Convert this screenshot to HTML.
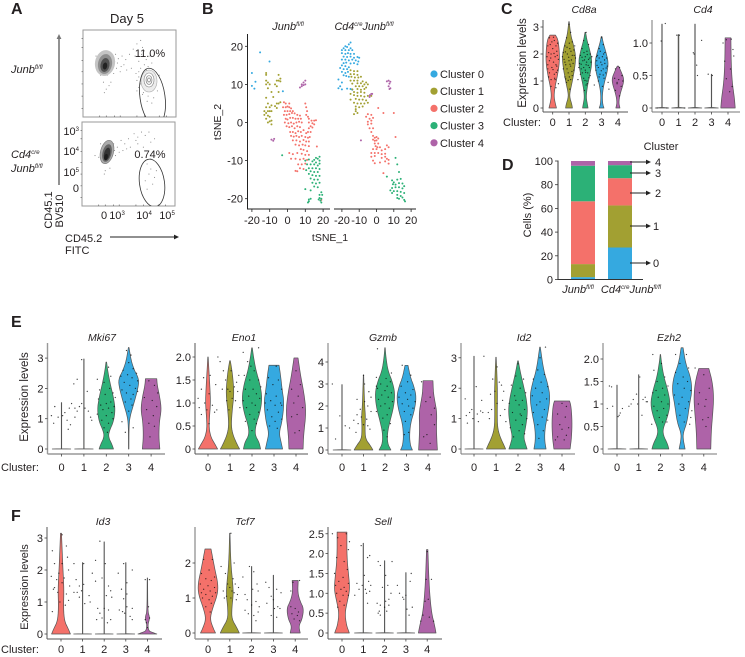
<!DOCTYPE html>
<html>
<head>
<meta charset="utf-8">
<title>Junb single-cell figure</title>
<style>
html,body{margin:0;padding:0;background:#fff;width:745px;height:657px;overflow:hidden}
svg{display:block;font-family:"Liberation Sans",Arial,sans-serif;fill:#231f20}
</style>
</head>
<body>
<svg id="fig" width="745" height="657" viewBox="0 0 745 657" xmlns="http://www.w3.org/2000/svg">
<defs>
<clipPath id="clipA1"><rect x="83" y="30" width="93" height="87"/></clipPath>
<clipPath id="clipA2"><rect x="82" y="122" width="93" height="84"/></clipPath>
</defs>
</svg>
<script>
// ---------- shared categories ----------
const clusterNames = ['Cluster 0','Cluster 1','Cluster 2','Cluster 3','Cluster 4'];
const clusterIds = ['0','1','2','3','4'];
const clusterColors = ['#35a9e0','#a2a032','#f4716a','#2cb177','#ae63a8'];
const violinColors = ['#f4716a','#a2a032','#2cb177','#35a9e0','#ae63a8'];

// ---------- panel D ----------
const stackGroups = ['Junb','Cd4creJunb'];
const stackJunb = [2,11,53,30,4];
const stackCd4 = [27,35.5,23,11,3.5];
const stackTicks = [0,20,40,60,80,100];

// ---------- panel B: tSNE ----------
const tsneTicksX = [-20,-10,0,10,20];
const tsneTicksY = [-20,-10,0,10,20];
const tsneA0 = [[-15.4,18.4],[-10.1,16],[-20,13],[-18,10.7],[-20,9.6],[-18.6,8.9],[-2.6,8.2]];
const tsneA1 = [[-12,13],[-12,12.5],[-12,11],[-11,10.5],[-10,10],[-12,10],[-5,12.5],[-4,11.5],[-6,11],[-5,11],[-4,10.8],[-7,10],[-6,9.5],[-11,9],[-9,8],[-5,8],[-12,6.5],[-8,6.7],[-11,5],[-12,4],[-10,4],[-9,4.5],[-6,5],[-5,5],[-4,5.3],[-13,3],[-12,2.5],[-13,2],[-11,3],[-10,3],[-9,3],[-11,1.8],[-10,1.5],[-12,1],[-9,.5],[-10,.3],[-11,0],[-9,-.5],[-7,4.3],[-6,3.8]];
const tsneA2 = [[-2,5.3],[-1,5],[1,5],[-2.5,4],[-1,4],[0,4.2],[1,4],[2,3.7],[-1.5,3],[0,3],[1.5,3],[3,3],[-2,2],[-.5,2],[1,2.2],[2.5,2.5],[4,2.4],[5.5,2],[7,1.8],[-1,1],[0,.8],[1.5,1.2],[3,1.2],[4.5,1],[6,1],[7.5,1],[10,5],[10.5,4],[11,3],[10.5,2],[11.5,1.5],[12,1],[-1.5,0],[.5,-.2],[2,0],[3.5,-.3],[5,0],[6.5,.2],[8,0],[12,0],[13.5,.5],[15,.5],[16,.6],[14,-.2],[15,-.5],[13,-1],[-.5,-1],[1,-1.2],[2.5,-1],[4,-1.5],[5.5,-1],[7,-1.2],[12,-1.5],[14,-1.3],[11.5,-2.5],[13,-2.5],[1.5,-2.5],[3,-2.5],[4.5,-2.8],[6,-2.3],[7.5,-2.5],[9,-2],[10.5,-2.8],[2,-3.5],[3.5,-3.7],[5,-3.5],[6.5,-3.8],[8,-3.5],[10,-3.8],[11.5,-4],[12.5,-3.8],[3,-4.7],[5,-4.7],[7,-5],[9,-4.6],[10.5,-5],[12,-5],[4.5,-5.8],[6.5,-6],[8.5,-5.8],[10,-6],[12,-6.2],[16.5,-6.3],[7.5,-7],[9,-7.2],[11,-7.5],[1,-8],[3,-8.3],[5.5,-8],[8,-8.2],[10,-8.5],[12,-8.5],[2,-9.5],[4.5,-9.5],[7,-9.7],[9,-9.5],[11,-9.8],[6,-11],[8,-11],[10,-10.8],[7,-12],[9,-12.2],[4.5,-12.7],[5.5,-12.8],[19,-20.3]];
const tsneA3 = [[-3,-8.6],[18,-9],[17,-9.5],[16,-9.3],[15,-9.8],[18,-10],[10,-10],[12,-9.7],[14,-10.2],[16,-10.5],[18,-10.8],[11,-11],[13,-11],[15,-11],[17,-11.3],[12,-12],[14,-12],[16,-12],[18,-12.2],[10.5,-12.5],[13,-12.8],[15,-13],[17,-13],[12,-13.5],[14,-13.8],[16,-14],[18,-14],[13,-14.7],[15,-15],[17,-15],[14,-15.8],[16,-16],[18,-15.8],[15,-16.8],[17,-17],[10,-17.5],[13,-17.8],[18,-19],[19,-18.3],[19.5,-19],[18,-19.8],[19,-20],[18.5,-20.5],[19,-21],[12,-20.2],[13,-20],[12,-20.7],[11.5,-21],[17.5,-20.2]];
const tsneA4 = [[8,10],[9,10.5],[10,11],[9,9.8],[8,9.5],[7,9.2],[10,10],[-9,-4.5],[-8,-4.8],[-7.5,-4.3]];
const tsneB0 = [[-15,21],[-16,20.5],[-18,20],[-17,19.8],[-19,19.5],[-15,19.5],[-20,19],[-18,19],[-16,19],[-14,19],[-20,18.2],[-18,18],[-16.5,18.2],[-15,18],[-13,18],[-19,17.3],[-17,17.2],[-15,17.3],[-13,17],[-11,17.2],[-10,17],[-20,16.5],[-18,16.5],[-16,16.3],[-14,16.5],[-12,16.3],[-10.5,16],[-19,15.6],[-17.5,15.7],[-15,15.5],[-13,15.6],[-11,15.3],[-20,15],[-18,14.8],[-16,14.5],[-21,14.3],[-19,14],[-17,14],[-20,13.3],[-18,13],[-16.5,13.3],[-19,12.4],[-17.5,12.2],[-16,12],[-22,11.3],[-20,10.5],[-21,9.5],[-22,9],[-20,8.7],[-15,8.8],[-14,8.6],[-17,8.9]];
const tsneB1 = [[-15,13.7],[-13,13.5],[-11,13.5],[-15,12.7],[-13,12.7],[-11,12.5],[-14.5,12],[-12.5,11.8],[-10.5,11.8],[-9,12],[-15,11],[-13,11],[-11,11],[-8,10.8],[-6,10.5],[-14,10.2],[-11,10.3],[-9,10.3],[-7,10],[-5,10],[-12,9.5],[-10,9.5],[-8,9.5],[-6,9.2],[-14,8.7],[-11,8.8],[-9,8.6],[-7,8.8],[-13,8],[-11,7.8],[-9,8],[-7,7.8],[-15,7.5],[-13,7.2],[-11,7],[-9,7],[-7,6.8],[-5,7],[-3,7],[-15,6],[-12,6.2],[-10,6],[-8,6],[-6,5.8],[-13,5.2],[-11,5],[-9,5],[-7,5],[-5,5.2],[-12,4.2],[-10,4],[-8,4.2],[-12,3],[-11,2.5],[-13,2.2],[-12,3.5]];
const tsneB2 = [[1,3.8],[4,2.5],[10,2.5],[-5,2.2],[-3,2],[-6,1.5],[-4,1],[-2,1.2],[-5,.2],[-3,.5],[-5,-.5],[-3,-.3],[-4,-1.5],[-2,-1.5],[-3,-2.5],[-2,-3.5],[-1,-4],[0,-3.8],[-2,-4.5],[0,-4.7],[1,-4.2],[-1,-5.5],[1,-5.5],[-.5,-6.2],[.5,-6.5],[2,-6.5],[6,-6],[7,-6.5],[-2,-7],[0,-7],[3,-7.3],[5,-7],[-3,-8],[-1,-8],[1,-8],[3,-8.3],[5,-8.2],[-3,-9],[-1,-8.8],[3,-9.3],[5,-9],[6,-9.5],[7,-9.8],[-2,-10],[-1,-10.7],[2,-10.5],[5,-10.2],[7,-10.8],[4,-13.3],[11,-3.8],[-1,-4.8]];
const tsneB3 = [[11,-9.3],[12,-11],[6,-14.2],[13,-13],[9,-15.2],[10,-15.7],[12,-15],[14,-14.8],[9.5,-16.2],[11,-16.3],[13,-15.9],[15,-16],[16,-16.7],[9,-17.2],[11,-17],[13,-17],[15,-17.3],[10,-18],[12,-18],[14,-18.2],[16,-18.5],[8,-17.8],[9,-18.5],[12,-19],[14,-19.3],[15,-19.7],[16,-20.3],[16.5,-20.7],[12,-19.8],[13,-20]];
const tsneB4 = [[6,10.8],[7,11],[8,10.7],[7.5,10.2],[7,9.5],[7.5,8.8],[8,9],[-3,7.5],[-2.5,7.5],[-4,6.7],[-3.8,7.2],[-9,-4.7]];

// ---------- panel A: flow plots, axis percent units ----------
const flowTopCells = [[24,38],[20,30],[28,28],[30,42],[18,45],[26,52],[22,60],[25,68],[34,36],[38,33],[42,30],[46,34],[50,28],[36,44],[44,40],[54,22],[58,16],[62,12],[64,20],[56,30],[60,36],[63,28],[66,24],[68,34],[72,30],[70,42],[74,38],[60,48],[64,54],[58,58],[62,62],[66,68],[74,66],[78,60],[80,70],[70,76],[76,78],[64,74],[82,52],[60,66],[68,46],[75,48],[16,36],[33,50],[40,48],[52,44],[30,60],[23,72],[62,44],[66,40],[72,50],[76,56],[60,54],[57,50],[65,72],[72,70],[69,82],[74,84],[58,70],[14,30],[35,28],[32,34],[37,38],[41,42],[47,46],[19,52],[28,64]];
const flowBottomCells = [[26,30],[28,38],[30,42],[22,34],[34,26],[38,30],[42,22],[46,26],[50,20],[56,14],[60,18],[64,12],[68,16],[72,12],[60,26],[66,30],[52,30],[44,34],[18,42],[14,40],[36,40],[70,50],[74,56],[72,62],[78,66],[68,70],[76,74],[80,58],[70,80],[74,44],[30,55],[25,58],[33,30],[35,34],[20,26],[40,36],[48,32],[58,22],[74,24],[78,20],[24,62]];
const flowTicksX = [18,25,34,40,58,66,82,90];
const flowTicksY = [10,20,35,48,62,76,90];
const flowLabelsY = ['10','10','10','0'];
const flowExponents = ['3','4','5',''];

// ---------- panels C, E, F: violin profiles [expression, relative half width] ----------
const cd8aProfiles = [
 [[0,.55],[.2,.35],[.45,.18],[.8,.35],[1.2,.7],[1.7,1],[2.2,.95],[2.55,.75],[2.7,.4]],
 [[0,.5],[.15,.4],[.4,.1],[.6,.15],[1,.5],[1.5,.85],[1.9,1],[2.3,.7],[2.7,.25],[3.2,.03]],
 [[0,.4],[.15,.3],[.4,.12],[.8,.3],[1.2,.65],[1.7,1],[2.1,.7],[2.5,.25],[2.8,.05]],
 [[0,.35],[.15,.15],[.5,.1],[.9,.35],[1.3,.8],[1.7,1],[2.1,.6],[2.4,.25],[2.65,.05]],
 [[0,.3],[.2,.12],[.5,.3],[.9,.8],[1.1,.85],[1.3,.55],[1.5,.2],[1.55,.1]]];
const cd4Profiles = [
 [[0,.9],[.01,.03],[1.29,.03]],[[0,.9],[.01,.05],[1.13,.05]],[[0,.9],[.01,.03],[1.29,.03]],[[0,.9],[.01,.03],[.52,.03]],
 [[0,.95],[.15,.85],[.4,.55],[.7,.42],[1.08,.38]]];
const mki67Profiles = [
 [[0,.9],[.01,.02],[1.53,.02]],[[0,.9],[.01,.02],[2.97,.02]],
 [[0,.7],[.15,.55],[.4,.2],[.6,.3],[.9,.7],[1.3,.87],[1.7,.7],[2.2,.35],[2.6,.13],[2.87,.03]],
 [[0,.02],[.8,.03],[1.1,.15],[1.5,.5],[2,.9],[2.3,1],[2.6,.55],[2.9,.25],[3.35,.03]],
 [[0,.85],[.4,.75],[.9,.8],[1.3,1],[1.7,.85],[2.1,.6],[2.32,.55]]];
const eno1Profiles = [
 [[0,.95],[.1,.7],[.25,.3],[.45,.1],[.7,.15],[1,.25],[1.3,.2],[1.6,.12],[2,.02]],
 [[0,.95],[.1,.7],[.3,.3],[.5,.12],[.8,.2],[1.2,.4],[1.5,.3],[1.7,.2],[1.92,.03]],
 [[0,.85],[.15,.7],[.3,.3],[.5,.35],[.8,.8],[1.1,1],[1.4,.8],[1.7,.4],[2,.15],[2.2,.03]],
 [[0,.85],[.15,.7],[.35,.5],[.6,.8],[1,1],[1.3,.8],[1.6,.65],[1.82,.5]],
 [[0,.7],[.3,.75],[.8,1],[1.2,.8],[1.6,.45],[1.98,.2]]];
const gzmbProfiles = [
 [[0,.9],[.02,.02],[2.97,.02]],
 [[0,.95],[.2,.7],[.5,.2],[1,.15],[1.5,.2],[2,.12],[2.6,.07],[3.4,.02]],
 [[0,.6],[.3,.25],[.8,.25],[1.3,.5],[2,.9],[2.6,1],[3.1,.75],[3.6,.3],[4.2,.1],[4.65,.02]],
 [[0,.6],[.2,.4],[.6,.3],[1.2,.4],[1.8,.8],[2.4,1],[2.9,.75],[3.3,.4],[3.85,.15]],
 [[0,.95],[.4,.9],[1,.85],[1.7,.9],[2.2,.7],[2.6,.55],[3.15,.5]]];
const id2Profiles = [
 [[0,.9],[.01,.02],[3.05,.02]],
 [[0,.95],[.15,.75],[.4,.4],[.7,.15],[1.2,.12],[1.8,.15],[2.4,.1],[3.02,.02]],
 [[0,.9],[.15,.75],[.4,.55],[.7,.75],[1.2,.95],[1.6,.85],[2,.6],[2.5,.25],[2.9,.03]],
 [[0,.6],[.3,.45],[.7,.5],[1.2,.8],[1.7,1],[2.1,.8],[2.6,.35],[3.35,.03]],
 [[0,.8],[.4,.95],[.9,1],[1.4,.9],[1.58,.75]]];
const ezh2Profiles = [
 [[0,.9],[.01,.02],[1.42,.02]],[[0,.9],[.01,.02],[1.65,.02]],
 [[0,.85],[.12,.7],[.3,.3],[.45,.25],[.7,.7],[1,1],[1.3,.75],[1.6,.35],[1.9,.12],[2.1,.02]],
 [[0,.3],[.2,.12],[.35,.1],[.6,.5],[1,.75],[1.3,1],[1.6,.85],[1.9,.35],[2.25,.1]],
 [[0,.7],[.4,.75],[.8,.9],[1.15,1],[1.5,.85],[1.79,.5]]];
const id3Profiles = [
 [[0,.95],[.15,.75],[.4,.35],[.8,.25],[1.4,.3],[2,.2],[2.6,.12],[3.15,.05]],
 [[0,.9],[.01,.02],[2.23,.02]],[[0,.9],[.01,.02],[2.88,.02]],[[0,.9],[.01,.02],[2.23,.02]],
 [[0,.95],[.05,.5],[.1,.12],[.3,.05],[.45,.2],[.55,.2],[.7,.04],[1.75,.02]]];
const tcf7Profiles = [
 [[0,.75],[.15,.5],[.4,.2],[.7,.45],[1.1,.95],[1.4,1],[1.8,.7],[2.1,.5],[2.4,.3]],
 [[0,.95],[.15,.7],[.4,.2],[.7,.2],[1.1,.35],[1.4,.3],[2,.1],[2.85,.02]],
 [[0,.9],[.01,.02],[1.9,.02]],[[0,.9],[.01,.02],[1.65,.02]],
 [[0,.5],[.2,.35],[.4,.7],[.7,.85],[.9,.5],[1.15,.25],[1.5,.3]]];
const sellProfiles = [
 [[0,.75],[.2,.45],[.5,.3],[.8,.55],[1.1,.8],[1.4,.7],[1.9,.5],[2.54,.5]],
 [[0,.9],[.01,.02],[2.26,.02]],[[0,.9],[.01,.02],[1.82,.02]],[[0,.9],[.01,.02],[1.52,.02]],
 [[0,.9],[.2,.75],[.5,.45],[1,.25],[1.5,.15],[2.1,.07]]];

// ---------- jittered cells [category offset, expression] ----------
const cd8aDots = [
 [[-.2,2.6],[.1,2.5],[.3,2.4],[-.3,2.3],[0,2.2],[.25,2.1],[-.1,2],[-.35,1.9],[.15,1.9],[.35,1.8],[-.2,1.75],[.05,1.7],[-.3,1.6],[.25,1.55],[-.05,1.5],[.3,1.4],[-.2,1.3],[.1,1.25],[-.25,1.15],[.15,1.05],[.35,.9],[-.1,.8],[-.15,2.35],[.2,1.6],[.05,2.62],[-.05,2.45],[.2,2.3],[-.25,2.05],[.08,2.02],[.28,1.95],[-.12,1.85],[.02,1.42],[-.3,1.45],[.22,1.32],[.12,1.1],[-.1,1.05],[.2,.75]],
 [[0,3.1],[.1,2.8],[-.15,2.6],[.2,2.45],[-.25,2.3],[.05,2.2],[.3,2.15],[-.35,2.05],[-.1,2],[.2,1.95],[.4,1.85],[-.3,1.8],[0,1.75],[.25,1.65],[-.2,1.6],[.1,1.55],[-.35,1.45],[.3,1.4],[-.05,1.3],[.2,1.2],[-.25,1.15],[.1,1.05],[-.15,.95],[.05,.7],[-.4,1.9],[.35,2.3],[.02,2.4],[-.12,2.25],[.12,2.1],[-.22,2.08],[.32,1.95],[-.02,1.88],[.15,1.78],[-.25,1.7],[.06,1.62],[-.12,1.45],[.18,1.35],[.02,1.15],[-.05,1.02],[-.2,1.08]],
 [[.05,2.8],[-.1,2.5],[.2,2.35],[-.2,2.2],[.1,2.1],[.3,2],[-.3,1.95],[0,1.9],[.2,1.8],[-.15,1.75],[.35,1.7],[-.35,1.65],[.05,1.6],[.25,1.5],[-.25,1.45],[0,1.4],[.15,1.3],[-.3,1.25],[.3,1.2],[-.1,1.1],[.1,1],[-.45,1.05],[.05,.85],[-.05,.65],[-.4,1.5],[.4,1.9],[-.08,2.05],[.12,1.98],[-.2,1.88],[.28,1.85],[-.05,1.78],[.08,1.7],[-.25,1.62],[.18,1.58],[-.1,1.5],[.02,1.32],[-.18,1.3],[.22,1.12],[-.02,1.02],[.12,.9]],
 [[0,2.6],[.1,2.35],[-.15,2.2],[.2,2.05],[-.25,1.95],[.05,1.9],[.3,1.85],[-.3,1.75],[-.05,1.7],[.2,1.65],[.35,1.55],[-.2,1.5],[.1,1.45],[-.35,1.4],[.25,1.3],[-.1,1.25],[.15,1.1],[-.2,1],[.4,.95],[-.45,.85],[.05,.8],[.45,.7],[-.3,1.9],[-.08,2.1],[.12,2],[-.15,1.85],[.18,1.78],[.02,1.6],[-.28,1.58],[.28,1.48],[-.02,1.38],[.1,1.22],[-.15,1.15]],
 [[.1,1.5],[-.15,1.45],[.25,1.2],[-.2,1.1],[.05,1.05],[.3,1],[-.05,.9],[.2,.8],[-.15,.65],[.1,.45],[-.05,.95]]];
const cd4Dots = [
 [[-.05,1.03],[.2,1.3],[.3,0],[-.3,0]],[[-.1,1.12],[.05,1.12],[.35,0]],
 [[-.1,.85],[.1,.66],[.15,.5],[.4,1.04],[-.05,.83]],[[-.2,.52],[.05,.5]],
 [[-.3,1],[-.1,1.05],[.2,1.06],[.35,.8],[.15,.6],[-.2,.72],[.25,.33],[-.1,.45],[.1,.25],[.3,.9]]];
const mki67Dots = [
 [[-.45,1.1],[-.3,1.4],[-.35,.85],[-.15,1.05],[.05,1.1],[.15,1.2],[.25,.95],[.35,1.35],[.45,1.5],[.3,.65],[.4,.8]],
 [[-.4,1.05],[-.3,1.25],[-.2,1.4],[-.1,1.5],[-.1,2.95],[-.45,2.15],[-.3,2.3],[.15,1.9],[.2,1.25],[.3,1.05],[.35,.95],[.05,1.35],[-.4,1.35]],
 [[.1,2.7],[-.4,2.3],[.2,2.4],[-.1,2.2],[.15,2],[-.3,1.95],[.3,1.85],[-.05,1.8],[.4,1.7],[-.35,1.65],[.2,1.55],[0,1.5],[-.25,1.45],[.35,1.4],[.1,1.35],[-.15,1.3],[.25,1.2],[-.4,1.15],[0,1.1],[.3,1],[-.2,.95],[.1,.85],[-.1,.7],[.05,.55]],
 [[-.1,3.25],[.1,3.1],[0,2.85],[-.25,2.6],[.2,2.65],[.35,2.5],[-.35,2.4],[-.05,2.45],[.15,2.35],[.4,2.25],[-.2,2.2],[.05,2.1],[.3,2],[-.3,1.95],[-.1,1.85],[.2,1.8],[.1,1.65],[-.15,1.55],[.15,1.45],[0,1.25],[-.3,.9],[.2,.7],[-.15,.55],[.4,1.9]],
 [[-.1,2.25],[.15,2.1],[.3,1.85],[-.3,1.7],[.05,1.6],[.25,1.4],[-.2,1.3],[.1,1.1],[-.1,.85],[.15,.75],[-.05,.4]]];
const eno1Dots = [
 [[-.45,1.1],[-.4,.9],[-.3,1.3],[-.2,1.55],[-.15,1],[-.05,.85],[.05,1.2],[.1,1.6],[.2,.95],[.3,.8],[.35,1.4],[.45,2],[.4,.85],[.05,.55],[-.3,.75]],
 [[-.45,1.9],[-.3,1.7],[-.2,1.5],[-.1,1.3],[0,1.25],[.1,1.1],[.2,1.35],[.3,1.45],[.35,1.25],[.4,1.6],[-.35,1.3],[-.15,1.05],[.05,1.7],[.25,1.05],[.45,.9],[-.05,.85]],
 [[-.4,2.1],[.3,2.2],[-.2,1.9],[-.35,1.6],[.1,1.7],[.3,1.5],[-.1,1.5],[.4,1.35],[-.3,1.3],[.05,1.3],[.2,1.2],[-.15,1.15],[.35,1.1],[-.4,1.05],[0,1],[.15,.95],[-.25,.9],[.3,.8],[-.1,.75],[.1,.65],[-.3,.6],[.2,.55],[0,.4],[-.05,1.8]],
 [[.1,1.8],[-.25,1.55],[.2,1.5],[-.05,1.4],[.35,1.3],[-.35,1.2],[.1,1.15],[-.15,1.05],[.3,1],[.05,.95],[-.3,.85],[.2,.8],[-.1,.7],[.35,.65],[.05,.6],[-.2,.5],[.15,.45],[.35,.95],[-.4,1]],
 [[0,1.7],[.2,1.4],[-.2,1.3],[.1,1.15],[-.1,1],[.3,.9],[.05,.75],[-.2,.7],[.15,.4],[-.05,.35]]];
const gzmbDots = [
 [[-.45,3],[-.1,1.55],[.15,1.1],[.35,1],[-.3,.5]],
 [[0,3.4],[.05,3],[.25,2.65],[.35,2.4],[-.3,2.3],[.05,2.2],[.2,2],[-.15,1.85],[.35,1.75],[-.3,1.6],[-.1,1.5],[.15,1.4],[-.45,1.35],[-.25,1.2],[0,1.15],[.2,1.1],[.3,.95],[-.35,.8]],
 [[-.35,4.6],[.3,3.5],[-.4,3.3],[.05,3.25],[.25,3.1],[-.2,3],[.1,2.9],[-.35,2.8],[0,2.7],[.3,2.6],[-.15,2.5],[.15,2.4],[-.3,2.3],[.35,2.2],[0,2.1],[-.2,2],[.2,1.9],[-.4,1.75],[.1,1.6],[-.1,1.45],[.25,1.2],[-.05,.9],[.1,.6],[-.4,2.9]],
 [[-.2,3.85],[.2,3.4],[.05,3.1],[-.25,2.9],[.3,2.75],[-.05,2.6],[.2,2.5],[-.35,2.4],[.05,2.3],[.4,2.2],[-.2,2.1],[.1,2],[.3,1.9],[-.1,1.75],[.2,1.6],[-.05,1.3],[.1,.8],[-.1,.7]],
 [[-.3,3.1],[.1,2.4],[-.1,2.2],[.3,1.9],[.15,1.6],[.3,1.15],[-.05,.7],[.1,.3],[-.2,.6]]];
const id2Dots = [
 [[-.4,1.65],[-.35,1.1],[-.3,.85],[-.2,1.2],[-.1,1.3],[-.05,1],[.1,2.05],[.15,1.15],[.3,1.25],[.4,1.2],[.45,3.05],[.35,1.6],[.2,.9]],
 [[-.35,1.2],[-.3,1],[-.2,1.3],[-.15,2.3],[-.05,1.9],[.05,2.7],[.15,2.2],[.25,2.1],[.3,1.6],[.4,1.3],[.2,1.1],[.35,1.9],[.05,1.5],[-.25,1.8],[.45,.9]],
 [[0,2.8],[-.1,2.4],[.25,2.3],[-.3,2.1],[.1,2],[.35,1.85],[-.15,1.75],[.2,1.6],[-.4,1.5],[.05,1.45],[.3,1.3],[-.25,1.2],[.1,1.15],[.4,1],[-.1,.95],[.2,.8],[-.35,.7],[.05,.6],[.3,.5],[-.2,.4],[-.1,1.6],[.15,1.1]],
 [[.25,3.35],[0,3],[-.1,2.6],[.2,2.45],[-.3,2.3],[.05,2.2],[.35,2.05],[-.2,2],[.1,1.85],[-.35,1.75],[.3,1.65],[0,1.55],[-.15,1.45],[.2,1.3],[-.3,1.2],[.1,1.05],[.35,.95],[-.1,.8],[.15,.6],[-.05,.35]],
 [[0,1.5],[.2,1.4],[-.2,1.15],[.15,1.05],[-.1,.8],[.3,.7],[0,.65],[.2,.45],[-.2,.4],[-.3,.3],[.1,.3]]];
const ezh2Dots = [
 [[-.45,.9],[-.35,1.4],[-.25,1.38],[-.2,.95],[.05,.72],[.15,.8],[.25,.9],[.1,.75]],
 [[-.45,.95],[-.35,1],[-.25,1.1],[-.1,1.22],[-.05,1],[.05,1.6],[.2,1.1],[.3,1.15],[.35,1.05],[.15,.75],[.4,1.05]],
 [[-.35,2.1],[.05,1.9],[-.3,1.75],[.2,1.6],[-.15,1.5],[.35,1.4],[.1,1.35],[-.35,1.25],[.2,1.2],[-.1,1.15],[.05,1.05],[.35,1],[-.3,.95],[.15,.9],[-.15,.85],[.3,.75],[-.05,.7],[.1,.6],[-.4,.55],[.3,.6],[-.2,1.3]],
 [[-.3,2.1],[.2,2.1],[-.1,1.9],[.3,1.8],[-.3,1.7],[.05,1.6],[.25,1.5],[-.2,1.45],[.1,1.35],[.4,1.3],[-.35,1.2],[0,1.15],[.3,1.05],[-.15,1],[.15,.9],[.4,.7],[-.1,.75],[.35,.55],[.1,.6],[.45,.85]],
 [[-.4,1.8],[0,1.65],[.25,1.35],[-.2,1.25],[.1,1.1],[-.25,1],[.05,.95],[.2,.7],[-.05,.65],[.1,.5]]];
const id3Dots = [
 [[-.4,2.6],[.25,2.75],[.3,2.4],[.05,3.1],[-.3,2.2],[.35,2],[-.45,1.8],[-.1,1.9],[.15,1.75],[-.3,1.45],[.05,1.6],[.4,1.5],[-.15,1.3],[.25,1.25],[.35,1.05],[-.05,1],[.2,.9],[.05,2.2],[-.2,1.7],[-.4,.7],[-.35,1.4]],
 [[-.4,2.2],[.05,2.2],[-.3,1.7],[-.15,1.5],[.05,1.55],[-.25,1.3],[-.15,1.15],[-.05,1.35],[.1,.95],[.3,1.2],[.35,1],[.45,1.9],[-.4,1.3]],
 [[-.4,2.3],[-.2,2.9],[-.4,1.65],[-.1,1.75],[.05,2.2],[.2,1.5],[.3,1.35],[.35,1.15],[.1,1.2],[-.3,.8],[-.2,.65],[-.1,.5],[0,.8],[.2,.75],[.3,.45],[.15,.35],[-.35,.45]],
 [[-.35,1.9],[-.1,2.2],[.3,2],[-.2,1.4],[.05,1.6],[-.1,1.1],[.05,1.25],[.3,.8],[-.3,.75],[-.15,.7],[.05,.85],[.2,.55],[.3,.45],[-.05,.65]],
 [[-.1,1.7],[.1,1.7],[.05,.85],[-.1,.45],[.1,.5],[-.05,.35],[0,.2]]];
const tcf7Dots = [
 [[-.2,2.1],[.2,2.1],[.05,1.8],[-.3,1.7],[.3,1.6],[-.1,1.55],[.15,1.5],[-.35,1.4],[0,1.35],[.3,1.3],[-.2,1.25],[.1,1.2],[.35,1.15],[-.1,1.1],[.2,1.05],[-.25,1],[.05,.95],[.15,.85],[-.1,.75],[.1,.6],[-.3,1.15]],
 [[-.4,1.9],[-.2,1.7],[.2,2],[.05,2.85],[-.1,1.4],[-.3,1.2],[0,1.3],[.1,1.2],[.2,1.15],[.35,1.1],[-.15,1.05],[.15,1.55],[.3,.95],[.25,1.4],[-.25,1],[.4,1.3],[.05,1]],
 [[-.4,1.6],[-.1,1.9],[.1,1.75],[.25,1.4],[.3,1.2],[-.3,1.1],[.05,1.25],[-.2,.95],[0,.8],[.2,.9],[.35,.75],[-.3,.65],[-.15,.55],[.1,.5],[.2,.35],[.3,.6]],
 [[-.35,1.45],[-.2,1.3],[.15,1.25],[.35,1.15],[-.1,1.05],[0,.95],[.2,.75],[-.3,.85],[.05,.7],[-.1,.5],[.3,.7],[.15,.45]],
 [[-.1,1.45],[.2,1.5],[-.2,.75],[0,.7],[.15,.6],[-.15,.55],[.1,.5],[-.05,.4],[.2,.35],[-.2,1.2]]];
const sellDots = [
 [[-.45,2.5],[.2,2.5],[.35,2.3],[-.2,2.4],[-.05,2.2],[.3,2.1],[-.25,1.9],[.1,1.8],[.25,1.6],[-.35,1.5],[.05,1.4],[-.15,1.3],[.3,1.25],[-.3,1.2],[.1,1.15],[-.05,1.1],[.2,1.05],[-.25,1],[.05,.95],[.3,.95],[-.1,.8],[.1,.7],[-.2,.65]],
 [[-.1,2.2],[.2,1.9],[.3,1.95],[-.3,1.25],[-.2,1.1],[-.05,1.2],[.1,1.1],[.25,1.3],[.35,1.2],[.15,1],[-.4,.95],[.05,1.45],[.3,1.05],[.2,.75]],
 [[-.3,1.8],[-.2,1.7],[.35,1.8],[.05,1.45],[.15,1.2],[-.1,1.15],[.3,1],[.05,.8],[-.35,.75],[-.2,.7],[-.25,.55],[-.3,.5],[-.2,.45],[0,.65],[.2,.7],[.1,.55],[.2,.85]],
 [[.25,1.5],[-.4,1.2],[-.3,1],[-.15,.9],[0,.95],[.2,1.3],[.05,.6],[.3,.65],[-.1,.85],[.15,.45]],
 [[0,2.05],[-.05,1.35],[.2,1.35],[-.1,.8],[.05,.85],[-.2,.45],[.1,.4],[-.3,.3],[.3,.3]]];

// ---------- helpers ----------
const NS = 'http://www.w3.org/2000/svg';
const fig = document.getElementById('fig');
function make(tag, parent, attrs){
  const e = document.createElementNS(NS, tag);
  for (const k in attrs) e.setAttribute(k, attrs[k]);
  parent.appendChild(e);
  return e;
}
function label(e, name, active){
  
  
  return e;
}
function group(parent, name){
  return label(make('g', parent, {}), name, false);
}
function line(parent, name, x1, y1, x2, y2, color, w){
  return label(make('line', parent, {x1, y1, x2, y2, stroke: color, 'stroke-width': w}), name, false);
}
function text(parent, name, x, y, str, size, anchor, extra){
  const t = make('text', parent, Object.assign({x, y, 'font-size': size, 'text-anchor': anchor || 'start'}, extra || {}));
  label(t, name, false);
  t.textContent = str;
  return t;
}
// runs: [[string, isSuperscript], ...]
function richText(parent, name, x, y, runs, size, anchor, italic){
  const t = make('text', parent, {x, y, 'font-size': size, 'text-anchor': anchor || 'start', 'font-style': italic === false ? 'normal' : 'italic'});
  label(t, name, false);
  let up = false;
  runs.forEach(function(r){
    const s = make('tspan', t, r[1] ? {'font-size': size * .55, dy: -size * .36} : {dy: up ? size * .36 : 0});
    s.textContent = r[0];
    up = !!r[1];
  });
  return t;
}
function arrow(parent, name, x1, y1, x2, y2, color, w){
  const g = group(parent, name);
  const len = Math.hypot(x2 - x1, y2 - y1);
  const ux = (x2 - x1) / len, uy = (y2 - y1) / len;
  make('line', g, {x1, y1, x2: x2 - ux * 3, y2: y2 - uy * 3, stroke: color, 'stroke-width': w});
  const p = [[x2, y2], [x2 - ux * 5 - uy * 2.4, y2 - uy * 5 + ux * 2.4], [x2 - ux * 5 + uy * 2.4, y2 - uy * 5 - ux * 2.4]];
  make('polygon', g, {points: p.map(function(q){return q.join(',');}).join(' '), fill: color});
  return g;
}
// corner-cutting smoother; three-point spike profiles stay sharp
function smooth(points){
  if (points.length <= 3) return points;
  let pts = points.slice();
  for (let it = 0; it < 2; it++){
    const out = [pts[0]];
    for (let i = 0; i < pts.length - 1; i++){
      const a = pts[i], b = pts[i + 1];
      out.push([a[0] * .75 + b[0] * .25, a[1] * .75 + b[1] * .25]);
      out.push([a[0] * .25 + b[0] * .75, a[1] * .25 + b[1] * .75]);
    }
    out.push(pts[pts.length - 1]);
    pts = out;
  }
  return pts;
}

// ---------- panel letters ----------
const lettersG = group(fig, 'panel-letters');
text(lettersG, 'panel-letter-a', 11, 14, 'A', 16, 'start', {'font-weight': 'bold'});
text(lettersG, 'panel-letter-b', 202, 14, 'B', 16, 'start', {'font-weight': 'bold'});
text(lettersG, 'panel-letter-c', 501, 14, 'C', 16, 'start', {'font-weight': 'bold'});
text(lettersG, 'panel-letter-d', 502, 170, 'D', 16, 'start', {'font-weight': 'bold'});
text(lettersG, 'panel-letter-e', 11, 327, 'E', 16, 'start', {'font-weight': 'bold'});
text(lettersG, 'panel-letter-f', 11, 521, 'F', 16, 'start', {'font-weight': 'bold'});

// ---------- panel A ----------
(function(){
  const g = group(fig, 'panel-a-flow');
  text(g, 'day-title', 127, 23, 'Day 5', 13, 'middle');
  richText(g, 'row-label-junb', 11, 73, [['Junb',0],['fl/fl',1]], 11, 'start');
  richText(g, 'row-label-cd4cre', 11, 158, [['Cd4',0],['cre',1]], 11, 'start');
  richText(g, 'row-label-junb-2', 11, 172, [['Junb',0],['fl/fl',1]], 11, 'start');
  function flow(name, bx, by, bw, bh, clip, cells, blob, gate){
    const p = group(g, name);
    label(make('rect', p, {x: bx, y: by, width: bw, height: bh, fill: '#fff', stroke: '#9a9a9a', 'stroke-width': 1}), name + '-frame', false);
    const cg = make('g', p, {'clip-path': 'url(#' + clip + ')'});
    cells.forEach(function(c){
      const d = make('circle', cg, {cx: bx + c[0] / 100 * bw, cy: by + c[1] / 100 * bh, r: .55, fill: '#888'});
      label(d, name + '-cell', false);
    });
    blob.forEach(function(b){
      label(make('ellipse', cg, {cx: b[0], cy: b[1], rx: b[2], ry: b[3], fill: b[4], stroke: b[5] || 'none', 'stroke-width': .6, transform: 'rotate(' + b[6] + ' ' + b[0] + ' ' + b[1] + ')'}), name + '-contour', false);
    });
    label(make('ellipse', cg, {cx: gate[0], cy: gate[1], rx: gate[2], ry: gate[3], fill: 'none', stroke: '#333', 'stroke-width': .8, transform: 'rotate(-8 ' + gate[0] + ' ' + gate[1] + ')'}), name + '-gate', true);
    flowTicksX.forEach(function(t){ line(p, name + '-tick', bx + t / 100 * bw, by + bh, bx + t / 100 * bw, by + bh - 1.5, '#555', .6); });
    flowTicksY.forEach(function(t){ line(p, name + '-tick', bx, by + t / 100 * bh, bx - 1.5, by + t / 100 * bh, '#555', .6); });
  }
  flow('flow-plot-junb', 83, 30, 93, 87, 'clipA1', flowTopCells,
    [[105,63,10,13,'#c4c4c4','',10],[105,64,7,10,'#8e8e8e','',10],[105,65,4.5,7,'#505050','',10],[105,66,2.2,3.5,'#222','',10],
     [149,81,8,11,'#ececec','#aaa',0],[149,80,5,7,'#fff','#888',0],[149,80,3,4.5,'#eee','#777',0],[149,80,1.3,2,'#fff','#666',0]],
    [152.5,97,12.5,29]);
  flow('flow-plot-cd4cre', 82, 122, 93, 84, 'clipA2', flowBottomCells,
    [[107,152,6.5,12,'#aaa','#777',14],[107,153,4.5,9,'#666','',14],[107,154,3,6.5,'#333','',14],[106,157,1.8,3.2,'#1c1c1c','',14]],
    [152,183,12.5,24]);
  text(g, 'gate-percent-top', 150, 57, '11.0%', 11, 'middle');
  text(g, 'gate-percent-bottom', 150, 158, '0.74%', 11, 'middle');
  const ys = [135, 155, 176, 192];
  flowLabelsY.forEach(function(l, i){
    richText(g, 'flow-y-tick-label', 79, ys[i], [[l,0],[flowExponents[i],1]], 11, 'end', false);
  });
  const xl = [['0','',104],['10','3',117],['10','4',144],['10','5',167]];
  xl.forEach(function(l){
    richText(g, 'flow-x-tick-label', l[2], 219, [[l[0],0],[l[1],1]], 11, 'middle', false);
  });
  text(g, 'y-axis-title-cd451', 52, 210, 'CD45.1', 11, 'middle', {transform: 'rotate(-90 52 210)'});
  text(g, 'y-axis-title-bv510', 63, 211, 'BV510', 11, 'middle', {transform: 'rotate(-90 63 211)'});
  text(g, 'x-axis-title-cd452', 65, 242, 'CD45.2', 11, 'start');
  text(g, 'x-axis-title-fitc', 65, 254, 'FITC', 11, 'start');
  arrow(g, 'y-axis-arrow', 59, 185, 59, 34, '#777', 1.6);
  arrow(g, 'x-axis-arrow', 110, 237, 179, 237, '#222', 1);
})();

// ---------- panel B ----------
(function(){
  const g = group(fig, 'panel-b-tsne');
  const y = function(v){ return 122.5 - v * 3.81; };
  const xA = function(v){ return 287.5 + v * 1.78; };
  const xB = function(v){ return 376.5 + v * 1.73; };
  const setsA = [tsneA0, tsneA1, tsneA2, tsneA3, tsneA4];
  const setsB = [tsneB0, tsneB1, tsneB2, tsneB3, tsneB4];
  function scatter(sets, xf, name){
    const s = group(g, name);
    sets.forEach(function(pts, c){
      pts.forEach(function(p){
        const d = make('circle', s, {cx: xf(p[0]), cy: y(p[1]), r: 1, fill: clusterColors[c]});
        label(d, 'tsne-point-cluster-' + c, false);
      });
    });
  }
  scatter(setsA, xA, 'tsne-junb-points');
  scatter(setsB, xB, 'tsne-cd4cre-points');
  line(g, 'tsne-y-axis', 247.5, 34, 247.5, 209.5, '#222', 1);
  line(g, 'tsne-x-axis-junb', 247, 209, 330, 209, '#222', 1);
  line(g, 'tsne-x-axis-cd4cre', 334, 209, 416, 209, '#222', 1);
  tsneTicksY.forEach(function(t){
    line(g, 'tsne-y-tick', 245, y(t), 247.5, y(t), '#222', .8);
    text(g, 'tsne-y-tick-label', 243, y(t) + 4, String(t), 11, 'end');
  });
  tsneTicksX.forEach(function(t){
    line(g, 'tsne-x-tick', xA(t), 209, xA(t), 212, '#222', .8);
    text(g, 'tsne-x-tick-label', xA(t), 224, String(t), 11, 'middle');
    line(g, 'tsne-x-tick', xB(t), 209, xB(t), 212, '#222', .8);
    text(g, 'tsne-x-tick-label', xB(t), 224, String(t), 11, 'middle');
  });
  text(g, 'tsne-x-title', 330, 241, 'tSNE_1', 10.5, 'middle');
  text(g, 'tsne-y-title', 221, 122, 'tSNE_2', 10.5, 'middle', {transform: 'rotate(-90 221 122)'});
  richText(g, 'tsne-title-junb', 288, 30, [['Junb',0],['fl/fl',1]], 11, 'middle');
  richText(g, 'tsne-title-cd4cre', 364, 30, [['Cd4',0],['cre',1],['Junb',0],['fl/fl',1]], 10.8, 'middle');
  const lg = group(g, 'tsne-legend');
  clusterNames.forEach(function(n, i){
    const yy = 74 + i * 17.2;
    label(make('circle', lg, {cx: 434, cy: yy, r: 3.6, fill: clusterColors[i]}), 'legend-swatch', false);
    text(lg, 'legend-entry', 440, yy + 4, n, 11, 'start');
  });
})();

// ---------- violin panels ----------
function violinPanel(cfg, profiles, dots, tickVals, tickTexts){
  const g = group(fig, 'violin-' + cfg.gene.toLowerCase());
  const y = function(v){ return cfg.zero - v * cfg.unit; };
  const x = function(c){ return cfg.first + c * cfg.step; };
  profiles.forEach(function(prof, c){
    const half = cfg.step * (cfg.half || .46);
    const sm = smooth(prof);
    const left = sm.map(function(p){ return (x(c) - p[1] * half).toFixed(2) + ',' + y(p[0]).toFixed(2); });
    const right = sm.slice().reverse().map(function(p){ return (x(c) + p[1] * half).toFixed(2) + ',' + y(p[0]).toFixed(2); });
    const v = make('polygon', g, {points: left.concat(right).join(' '), fill: violinColors[c], stroke: '#555', 'stroke-width': .7, 'stroke-linejoin': 'round'});
    label(v, 'violin-cluster-' + c, false);
  });
  dots.forEach(function(list, c){
    list.forEach(function(d){
      const e = make('circle', g, {cx: x(c) + d[0] * cfg.step, cy: y(d[1]), r: .65, fill: '#111', opacity: .8});
      label(e, 'cell-point-cluster-' + c, false);
    });
  });
  const axisColor = cfg.axis || '#555';
  line(g, 'y-axis', cfg.x0, cfg.top, cfg.x0, cfg.bottom, axisColor, cfg.axisW || 1);
  line(g, 'x-axis', cfg.x0, cfg.bottom, cfg.x1, cfg.bottom, axisColor, cfg.axisW || 1);
  tickVals.forEach(function(t, i){
    line(g, 'y-tick', cfg.x0 - 2.5, y(t), cfg.x0, y(t), '#444', .8);
    text(g, 'y-tick-label', cfg.x0 - 4, y(t) + 4, tickTexts[i], 11, 'end');
  });
  clusterIds.forEach(function(id, c){
    line(g, 'x-tick', x(c), cfg.bottom, x(c), cfg.bottom + 2.5, '#444', .8);
    text(g, 'x-tick-label', x(c), cfg.labelY, id, 11, 'middle');
  });
  text(g, 'gene-title', cfg.titleX, cfg.titleY, cfg.gene, 10.5, 'middle', {'font-style': 'italic'});
}

violinPanel({gene:'Cd8a',x0:543,x1:628,top:20,bottom:112,zero:108,unit:27,first:552.7,step:16.3,half:.42,labelY:126,titleX:584,titleY:13}, cd8aProfiles, cd8aDots, [0,1,2,3], ['0','1','2','3']);
violinPanel({gene:'Cd4',x0:652,x1:740,top:20,bottom:112,zero:108,unit:65,first:662,step:16.5,labelY:126,titleX:703,titleY:13,axis:'#777'}, cd4Profiles, cd4Dots, [0,.5,1], ['0','0.5','1.0']);
violinPanel({gene:'Mki67',x0:47.5,x1:165,top:343,bottom:454,zero:449,unit:30.3,first:61.5,step:22.4,labelY:471,titleX:102,titleY:341,axis:'#999',axisW:1.4}, mki67Profiles, mki67Dots, [0,1,2,3], ['0','1','2','3']);
violinPanel({gene:'Eno1',x0:195,x1:308,top:343,bottom:454,zero:449,unit:46,first:208,step:22,labelY:471,titleX:244,titleY:341}, eno1Profiles, eno1Dots, [0,.5,1,1.5,2], ['0','0.5','1.0','1.5','2.0']);
violinPanel({gene:'Gzmb',x0:328,x1:441,top:343,bottom:454,zero:450,unit:22,first:342,step:21.5,labelY:471,titleX:383,titleY:341,axis:'#777'}, gzmbProfiles, gzmbDots, [0,1,2,3,4], ['0','1','2','3','4']);
violinPanel({gene:'Id2',x0:461,x1:575,top:343,bottom:454,zero:449,unit:30.4,first:474,step:22,labelY:471,titleX:524,titleY:341,axis:'#777'}, id2Profiles, id2Dots, [0,1,2,3], ['0','1','2','3']);
violinPanel({gene:'Ezh2',x0:603,x1:717,top:343,bottom:454,zero:449,unit:45,first:617,step:21.7,labelY:471,titleX:669,titleY:341,axis:'#777'}, ezh2Profiles, ezh2Dots, [0,.5,1,1.5,2], ['0','0.5','1','1.5','2.0']);
violinPanel({gene:'Id3',x0:47,x1:162,top:527,bottom:639,zero:634,unit:32,first:61,step:21.6,labelY:653,titleX:103,titleY:525}, id3Profiles, id3Dots, [0,1,2,3], ['0','1','2','3']);
violinPanel({gene:'Tcf7',x0:195,x1:308,top:527,bottom:639,zero:633,unit:35,first:208,step:21.8,labelY:653,titleX:245,titleY:525,axis:'#999',axisW:1.4}, tcf7Profiles, tcf7Dots, [0,1,2], ['0','1','2']);
violinPanel({gene:'Sell',x0:328,x1:442,top:527,bottom:639,zero:633,unit:39.7,first:342,step:21.3,labelY:653,titleX:383,titleY:525}, sellProfiles, sellDots, [0,.5,1,1.5,2,2.5], ['0','0.5','1.0','1.5','2.0','2.5']);

(function(){
  const g = group(fig, 'shared-violin-labels');
  text(g, 'expression-title-c', 526, 63, 'Expression levels', 11.5, 'middle', {transform: 'rotate(-90 526 63)'});
  text(g, 'expression-title-e', 28, 397, 'Expression levels', 11.5, 'middle', {transform: 'rotate(-90 28 397)'});
  text(g, 'expression-title-f', 28, 587, 'Expression levels', 11, 'middle', {transform: 'rotate(-90 28 587)'});
  text(g, 'cluster-label-c', 503, 126, 'Cluster:', 11, 'start');
  text(g, 'cluster-label-e', 1, 471, 'Cluster:', 11, 'start');
  text(g, 'cluster-label-f', 1, 653, 'Cluster:', 11, 'start');
})();

// ---------- panel D ----------
(function(){
  const g = group(fig, 'panel-d-stacked-bars');
  const y = function(v){ return 279.5 - v * 1.185; };
  const order = [stackJunb, stackCd4];
  const lefts = [571, 608];
  const segColors = ['#35a9e0','#a2a032','#f4716a','#2cb177','#ae63a8'];
  order.forEach(function(series, b){
    let acc = 0;
    series.forEach(function(v, c){
      const r = make('rect', g, {x: lefts[b], y: y(acc + v), width: 24, height: v * 1.185, fill: segColors[c]});
      label(r, 'bar-' + stackGroups[b].toLowerCase() + '-cluster-' + c, false);
      acc += v;
    });
  });
  line(g, 'y-axis', 558, 160.5, 558, 280, '#333', 1);
  line(g, 'x-axis', 558, 279.5, 643, 279.5, '#333', 1);
  stackTicks.forEach(function(t){
    line(g, 'y-tick', 555, y(t), 558, y(t), '#333', .8);
    text(g, 'y-tick-label', 553, y(t) + 4, String(t), 11, 'end');
  });
  text(g, 'y-axis-title', 531, 215, 'Cells (%)', 11, 'middle', {transform: 'rotate(-90 531 215)'});
  richText(g, 'x-label-junb', 578, 293, [['Junb',0],['fl/fl',1]], 11, 'middle');
  richText(g, 'x-label-cd4cre', 631, 293, [['Cd4',0],['cre',1],['Junb',0],['fl/fl',1]], 11, 'middle');
  text(g, 'cluster-heading', 661, 150, 'Cluster', 11, 'middle');
  const arrowRows = [[263,'0',653],[226,'1',653],[193,'2',655],[173,'3',655],[162,'4',655]];
  arrowRows.forEach(function(a){
    arrow(g, 'cluster-arrow-' + a[1], 630, a[0], 651, a[0], '#222', 1);
    text(g, 'cluster-arrow-label-' + a[1], a[2], a[0] + 4, a[1], 11, 'start');
  });
})();
</script>
</body>
</html>
